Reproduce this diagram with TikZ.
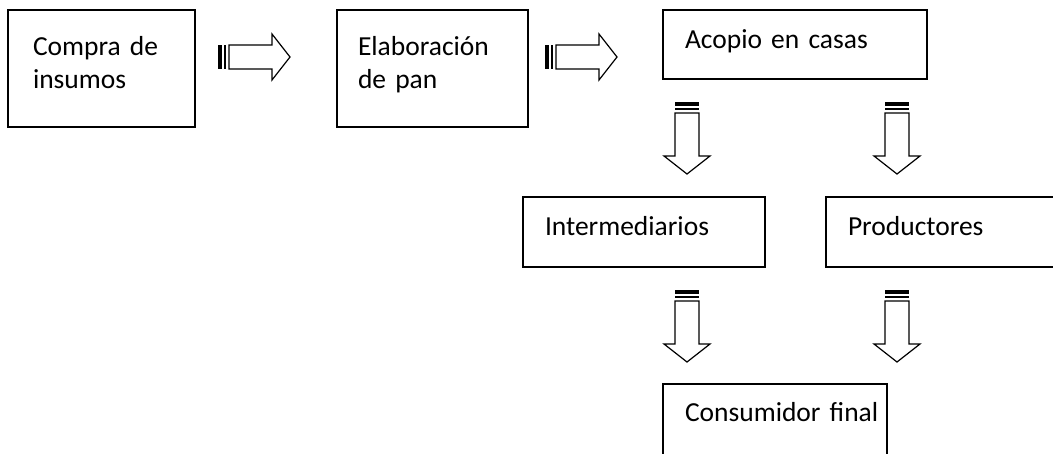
\documentclass[tikz,border=0pt]{standalone}
\usepackage{fontspec}
\setmainfont{Carlito}
\begin{document}
\begin{tikzpicture}[x=1pt,y=-1pt,
  caja/.style={draw, line width=1.5pt, anchor=north west, inner xsep=22pt, inner ysep=0pt, outer sep=0pt, align=left, font=\fontsize{27.5}{33.5}\selectfont, text height=38pt},
  flecha/.pic={
    \fill (0,-12) rectangle (4,12);
    \fill (6,-12) rectangle (8,12);
    \draw[line width=1.2pt, line join=miter] (11,-12) -- (54,-12) -- (54,-23) -- (72,0) -- (54,23) -- (54,12) -- (11,12) -- cycle;
  }]
\useasboundingbox (0,0) rectangle (1053,453);
\clip (0,0) rectangle (1053,453);
\node[caja, text width=137pt, inner xsep=25pt, text height=45pt, text depth=72pt] (compra) at (8,10) {Compra de\\insumos};
\node[caja, text width=149pt, inner xsep=21pt, text height=45pt, text depth=72pt] (elab) at (337,10) {Elaboración\\de pan};
\node[caja, text width=220pt, text depth=31pt] (acopio) at (663,10) {Acopio en casas};
\node[caja, text width=198pt, text depth=32pt] (inter) at (523,197) {Intermediarios};
\node[caja, text width=216pt, text depth=32pt] (prod) at (826,197) {Productores};
\node[caja, text width=180pt, text height=37pt, text depth=70pt] (consum) at (663,384) {\mbox{Consumidor final}};
\pic (fa) at (218,57) {flecha};
\pic (fb) at (545,57) {flecha};
\pic[rotate=-90] (fc) at (687,102) {flecha};
\pic[rotate=-90] (fd) at (897,102) {flecha};
\pic[rotate=-90] (fe) at (687,290) {flecha};
\pic[rotate=-90] (ff) at (897,290) {flecha};
\end{tikzpicture}
\end{document}
